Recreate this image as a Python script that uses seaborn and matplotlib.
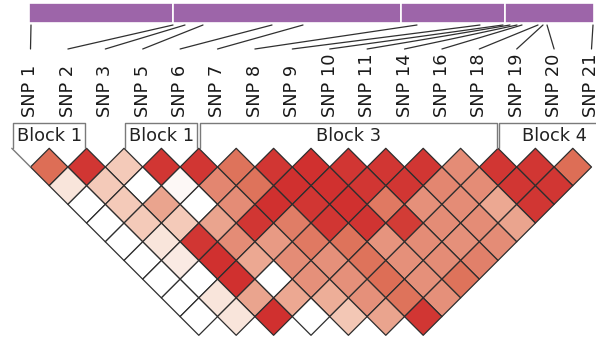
import numpy as np
import matplotlib
matplotlib.use("Agg")
import matplotlib.pyplot as plt
from matplotlib.collections import PolyCollection
from matplotlib.patches import Rectangle
import seaborn as sns

# markers shown in the plot
snp_labels = ["SNP 1", "SNP 2", "SNP 3", "SNP 5", "SNP 6", "SNP 7", "SNP 8", "SNP 9",
              "SNP 10", "SNP 11", "SNP 14", "SNP 16", "SNP 18", "SNP 19", "SNP 20", "SNP 21"]
# physical position of each marker along the gene (kb)
snp_pos_kb = [0.2, 14.4, 15.6, 17.4, 24.3, 27.4, 38.8, 45.1,
              47.4, 48.1, 48.8, 49.3, 50.9, 51.4, 51.8, 56.4]
region_kb = 56.5
exon_breaks_kb = [14.4, 37.2, 47.6]

# haplotype blocks (first / last marker index)
block_names = ["Block 1", "Block 1", "Block 3", "Block 4"]
block_first = [0, 3, 5, 13]
block_last = [1, 4, 12, 15]

# D' values, row k holds the pairs (i, i + k + 1)
ld_rows = [
    [0.78, 0.97, 0.30, 0.97, 0.97, 0.75, 0.97, 0.99, 0.97, 0.97, 0.97, 0.62, 0.97, 0.97, 0.78],
    [0.15, 0.30, 0.00, 0.04, 0.65, 0.75, 0.99, 0.99, 0.97, 0.97, 0.65, 0.62, 0.97, 0.97],
    [0.00, 0.30, 0.50, 0.00, 0.62, 0.99, 0.97, 0.99, 0.72, 0.60, 0.62, 0.48, 0.97],
    [0.00, 0.30, 0.30, 0.50, 0.97, 0.70, 0.97, 0.98, 0.95, 0.62, 0.62, 0.50],
    [0.00, 0.15, 0.97, 0.62, 0.55, 0.72, 0.75, 0.58, 0.62, 0.60, 0.62],
    [0.00, 0.12, 0.99, 0.48, 0.62, 0.60, 0.75, 0.60, 0.62, 0.68],
    [0.00, 0.00, 0.99, 0.00, 0.60, 0.60, 0.78, 0.60, 0.75],
    [0.00, 0.15, 0.50, 0.48, 0.45, 0.60, 0.75, 0.60],
    [0.00, 0.15, 0.99, 0.00, 0.32, 0.50, 0.97],
]

sns.set_theme(style="white")
plt.rcParams["font.family"] = ["DejaVu Sans"]

U = 37.4  # pixels per marker step
fig = plt.figure(figsize=(5.96, 3.41), dpi=100)
ax = fig.add_axes([0, 0, 1, 1])
ax.set_xlim(-30.5 / U, 565.5 / U)
ax.set_ylim(-192.7 / U, 148.3 / U)
ax.axis("off")


def kb_to_x(kb):
    # gene bar spans from px 29 to px 594
    return (29 - 30.5) / U + kb * (565 / U) / region_kb


# LD diamonds
cmap = sns.blend_palette(["#ffffff", "#f7dccf", "#f0b8a2", "#e5907a", "#dc6a52", "#cf2e2e"],
                         as_cmap=True)
polys, vals = [], []
for k, row in enumerate(ld_rows, start=1):
    for i, v in enumerate(row):
        cx, cy = i + k / 2, -k / 2
        polys.append([(cx, cy + 0.5), (cx + 0.5, cy), (cx, cy - 0.5), (cx - 0.5, cy)])
        vals.append(v)
pc = PolyCollection(polys, array=np.array(vals), cmap=cmap, norm=plt.Normalize(0, 1),
                    edgecolors="#2e2e2e", linewidths=0.9)
ax.add_collection(pc)

# gene bar with exon breaks
edges = [0] + exon_breaks_kb + [region_kb]
bar_bot, bar_top = (148.3 - 23.3) / U, (148.3 - 2.7) / U
for a, b in zip(edges[:-1], edges[1:]):
    ax.add_patch(Rectangle((kb_to_x(a), bar_bot), kb_to_x(b) - kb_to_x(a), bar_top - bar_bot,
                           facecolor="#9d65a9", edgecolor="white", linewidth=1.2))

# connectors from physical position to marker label
line_top, line_bot = (148.3 - 25) / U, (148.3 - 49) / U
for i, pos in enumerate(snp_pos_kb):
    ax.plot([kb_to_x(pos), i], [line_top, line_bot], color="#303030", lw=0.9)

# marker labels
label_y = (148.3 - 117) / U
for i, lab in enumerate(snp_labels):
    ax.text(i, label_y, lab, rotation=90, ha="center", va="bottom",
            fontsize=12.8, color="#1a1a1a")

# block boxes
box_top = (148.3 - 123) / U
inset = 0.04
for name, a, b in zip(block_names, block_first, block_last):
    x0, x1 = a - 0.5 + inset, b + 0.5 - inset
    ax.plot([x0, x0, x1, x1], [0, box_top, box_top, 0], color="#7a7a7a", lw=1.0)
    if a == 0:
        ax.plot([a - 0.5, a], [0, -0.5], color="#7a7a7a", lw=1.0)
    ax.text((x0 + x1) / 2, box_top / 2, name, ha="center", va="center",
            fontsize=12.8, color="#222222")

plt.savefig("out.png", dpi=100)
